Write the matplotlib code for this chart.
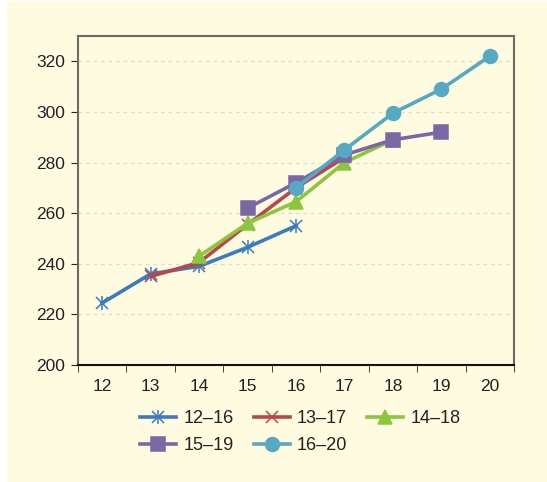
import matplotlib.pyplot as plt
from matplotlib.patches import Rectangle

plt.rcParams["font.family"] = ["Liberation Sans", "DejaVu Sans"]

# ages on the x axis, one value list per cohort
ages = [12, 13, 14, 15, 16, 17, 18, 19, 20]
cohorts = ["12\u201316", "13\u201317", "14\u201318", "15\u201319", "16\u201320"]
start_age = [12, 13, 14, 15, 16]
vals_12_16 = [224.5, 236, 239, 246.5, 255]
vals_13_17 = [235, 240.5, 255.5, 270, 282]
vals_14_18 = [243, 256, 264.5, 280, 289]
vals_15_19 = [262, 272, 283, 289, 292]
vals_16_20 = [270, 285, 299.5, 309, 322]
y_ticks = [200, 220, 240, 260, 280, 300, 320]

values = [vals_12_16, vals_13_17, vals_14_18, vals_15_19, vals_16_20]
colors = ["#3b7bbf", "#b8474d", "#8cc63e", "#7a67a5", "#56a8c3"]
markers = ["x", "x", "^", "s", "o"]
msizes = [9, 9, 10, 10, 10]

bg = "#fffbe0"
fig = plt.figure(figsize=(5.47, 4.82), dpi=100)
fig.patch.set_facecolor("white")
fig.patches.append(Rectangle((7 / 547, 0), 1, 1 - 2 / 482, transform=fig.transFigure,
                             facecolor=bg, edgecolor="none", zorder=-10))

ax = fig.add_axes([78 / 547, 1 - 365 / 482, (514 - 78) / 547, (365 - 36) / 482])
ax.set_facecolor(bg)

handles = []
for i in range(len(cohorts)):
    x = list(range(start_age[i], start_age[i] + 5))
    h, = ax.plot(x, values[i], color=colors[i], lw=2.6, marker=markers[i],
                 ms=msizes[i], mew=1.1, label=cohorts[i], zorder=3 + i)
    if i == 0:
        # asterisk-style marker: add a vertical stroke over the x
        v, = ax.plot(x, values[i], ls="none", marker="|", ms=10, mew=1.1,
                     color=colors[i], zorder=3)
        h = (h, v)
    handles.append(h)

ax.set_xlim(11.5, 20.5)
ax.set_ylim(200, 330)
ax.set_yticks(y_ticks)
ax.set_xticks(ages)
ax.set_xticks([a - 0.5 for a in ages] + [20.5], minor=True)
ax.tick_params(axis="x", which="major", length=0, pad=10, labelsize=12.5, labelcolor="#222222")
ax.tick_params(axis="x", which="minor", length=5, direction="out", color="#222222")
ax.tick_params(axis="y", length=5, direction="out", color="#222222", labelsize=12.5,
               pad=4, labelcolor="#222222")
ax.grid(axis="y", ls=(0, (3, 3)), color="#dcdcd2", lw=0.9)
ax.set_axisbelow(True)

for s in ["top", "right", "left"]:
    ax.spines[s].set_color("#6e6a60")
    ax.spines[s].set_linewidth(1.5)
ax.spines["bottom"].set_color("#111111")
ax.spines["bottom"].set_linewidth(1.5)

# legend fills columns first, so reorder to read row by row
order = [0, 3, 1, 4, 2]
leg = fig.legend([handles[k] for k in order], [cohorts[k] for k in order],
                 loc="upper left", bbox_to_anchor=(124 / 547, 1 - 394 / 482),
                 ncol=3, frameon=False, fontsize=13, handlelength=2.0, handletextpad=0.4,
                 columnspacing=1.1, labelspacing=0.55)
for t in leg.get_texts():
    t.set_color("#222222")

fig.savefig("out.png", dpi=100, facecolor=fig.get_facecolor())
